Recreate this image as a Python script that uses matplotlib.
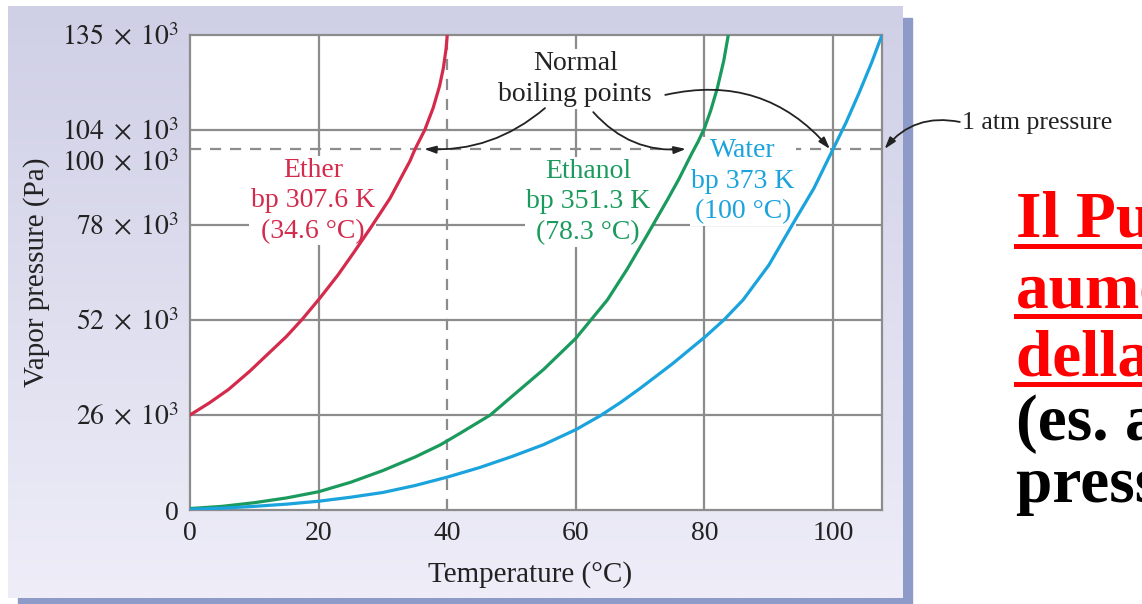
# Vapor pressure curves of ether, ethanol and water
import numpy as np
import matplotlib.pyplot as plt
from matplotlib.patches import Rectangle
from matplotlib.lines import Line2D

plt.rcParams['font.family'] = ['Liberation Serif', 'DejaVu Serif']
plt.rcParams['mathtext.fontset'] = 'stix'

# data (temperature in degC, pressure in axis units of 10^3 Pa)
ether_t = [0, 3, 6, 9.3, 12, 15, 17.5, 20.2, 23, 25.4, 28, 31.1, 34.2, 35, 36.5,
           37.8, 38.8, 39.4, 39.8, 40]
ether_p = [26, 29.3, 33, 38, 42.5, 47.5, 52.3, 58, 64.3, 70.3, 77, 85.3, 95.5, 98.8, 104,
           110, 116, 121, 126, 130]
ethanol_t = [0, 5, 10, 15, 20, 25, 30, 35, 38.9, 42, 46.7, 50, 55, 60, 64.9, 68, 71,
             74.2, 76, 78, 79, 80, 81, 82, 83, 83.7]
ethanol_p = [0.4, 1.0, 2.0, 3.3, 5.0, 7.6, 10.8, 14.5, 17.8, 21, 26, 31, 38.5, 47, 57.5,
             66, 75, 84.8, 90.5, 97.5, 100.8, 104.5, 109.5, 115.5, 123, 130]
water_t = [0, 5, 10, 15, 20, 25, 30, 35, 40, 45, 50, 55, 60, 63.8, 67, 70, 75, 80.1,
           83, 86, 90, 93.8, 97, 100, 102, 104, 106, 107.6]
water_p = [0.2, 0.5, 1.0, 1.6, 2.4, 3.5, 4.8, 6.7, 9.0, 11.6, 14.6, 17.9, 22, 25.8, 29.5,
           33.3, 40, 47.4, 52, 57.5, 67, 78.5, 88, 98.8, 106, 114, 122.5, 130]

x_ticks = [0, 20, 40, 60, 80, 100]
x_grid = [20, 60, 80, 100]
y_ticks = [0, 26, 52, 78, 95.5, 104, 130]
y_labels = ['0', r'$26\;\times\;10^{3}$', r'$52\;\times\;10^{3}$', r'$78\;\times\;10^{3}$',
            r'$100\;\times\;10^{3}$', r'$104\;\times\;10^{3}$', r'$135\;\times\;10^{3}$']
y_grid = [26, 52, 78, 104]
atm = 98.8
bp = {'Ether': 36.4, 'Ethanol': 77.1, 'Water': 99.5}

red, green, blue = '#d42a4c', '#1b9a5e', '#1aa3dc'
gridc = '#8c8c8c'
ink = '#222222'

fig = plt.figure(figsize=(11.42, 6.04), dpi=100)

# panel background with shadow
bg = fig.add_axes([0, 0, 1, 1])
bg.set_xlim(0, 1142)
bg.set_ylim(604, 0)
bg.axis('off')
bg.add_patch(Rectangle((18, 18), 894, 590, color='#8e9bc8', zorder=0))
grad = np.linspace(0, 1, 256)[:, None]
cmap = plt.matplotlib.colors.LinearSegmentedColormap.from_list('bgc', ['#cfcfe6', '#eeedf8'])
bg.imshow(grad, extent=(8, 903, 598, 6), cmap=cmap, aspect='auto', zorder=1)

ax = fig.add_axes([190 / 1142, 1 - 510 / 604, 692 / 1142, 475 / 604])
ax.set_xlim(0, 107.6)
ax.set_ylim(0, 130)
ax.set_facecolor('white')

for x in x_grid:
    ax.axvline(x, color=gridc, lw=1.6, zorder=1)
for y in y_grid:
    ax.axhline(y, color=gridc, lw=1.6, zorder=1)
ax.axvline(40, color=gridc, lw=1.6, ls=(0, (5, 4)), zorder=1)
ax.axhline(atm, color=gridc, lw=1.6, ls=(0, (5, 4)), zorder=1)

for s in ax.spines.values():
    s.set_color(gridc)
    s.set_linewidth(1.6)

ax.plot(ether_t, ether_p, color=red, lw=2.3, zorder=5)
ax.plot(ethanol_t, ethanol_p, color=green, lw=2.3, zorder=5)
ax.plot(water_t, water_p, color=blue, lw=2.3, zorder=5)

ax.set_xticks(x_ticks)
ax.set_xticklabels([str(t) for t in x_ticks])
ax.set_yticks(y_ticks)
ax.set_yticklabels(y_labels)
ax.tick_params(length=0, labelsize=20, colors=ink, pad=8)
ax.set_xlabel('Temperature (°C)', fontsize=21, color=ink)
ax.set_ylabel('Vapor pressure (Pa)', fontsize=21, color=ink)
ax.xaxis.set_label_coords(0.491, -0.108)
ax.yaxis.set_label_coords(-0.203, 0.5)

box = dict(facecolor='white', edgecolor='none', pad=1)
ax.text(19.1, 84.6, 'Ether\nbp 307.6 K\n(34.6 °C)', color=red, fontsize=20,
        ha='center', va='center', linespacing=1.3, bbox=box, zorder=3)
ax.text(61.9, 84.3, 'Ethanol\nbp 351.3 K\n(78.3 °C)', color=green, fontsize=20,
        ha='center', va='center', linespacing=1.3, bbox=box, zorder=3)
ax.text(86.0, 90.0, 'Water\nbp 373 K\n(100 °C)', color=blue, fontsize=20,
        ha='center', va='center', linespacing=1.3, bbox=box, zorder=3)
ax.text(59.9, 118.0, 'Normal\nboiling points', color=ink, fontsize=20,
        ha='center', va='center', linespacing=1.35, bbox=box, zorder=3)

arrow = dict(arrowstyle='-|>,head_length=0.7,head_width=0.22', color=ink, lw=1.3,
             shrinkA=0, shrinkB=0)
ax.annotate('', xy=(bp['Ether'], atm), xytext=(55.2, 110),
            arrowprops=dict(arrow, connectionstyle='arc3,rad=-0.2'), zorder=6)
ax.annotate('', xy=(bp['Ethanol'], atm), xytext=(62.7, 108.9),
            arrowprops=dict(arrow, connectionstyle='arc3,rad=0.25'), zorder=6)
ax.annotate('', xy=(bp['Water'], atm), xytext=(73.9, 113.6),
            arrowprops=dict(arrow, connectionstyle='arc3,rad=-0.3'), zorder=6)
ax.annotate('', xy=(108.0, atm), xytext=(119.7, 106.2), annotation_clip=False,
            arrowprops=dict(arrow, connectionstyle='arc3,rad=0.3'), zorder=6)
ax.text(120.1, 106.0, '1 atm pressure', color=ink, fontsize=18.5,
        ha='left', va='center', clip_on=False)

# right-hand slide text (clipped at the image edge)
lines = ['Il Punto di ebollizione', 'aumenta all\'aumentare', 'della pressione',
         '(es. alta montagna,', 'pressione minore)']
baselines = [237, 307, 376, 440, 502]
colors = ['#ff0000', '#ff0000', '#ff0000', 'black', 'black']
for txt, yb, c in zip(lines, baselines, colors):
    fig.text(1016 / 1142, 1 - yb / 604, txt, color=c, fontsize=47, fontweight='bold',
             ha='left', va='baseline', family=['Liberation Serif', 'DejaVu Serif'])
for yu in [246, 316, 384]:
    fig.add_artist(Line2D([1016 / 1142, 1], [1 - yu / 604] * 2, color='#ff0000', lw=3.6,
                          transform=fig.transFigure))

fig.savefig('out.png', dpi=100)
